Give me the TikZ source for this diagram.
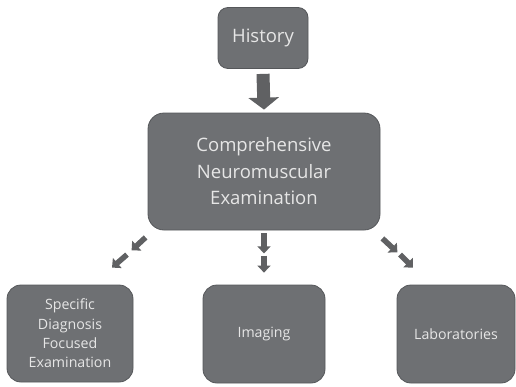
\documentclass[tikz,border=0pt]{standalone}
\usepackage{fontspec}
\setmainfont{Open Sans}
\usetikzlibrary{arrows.meta,calc}

\definecolor{boxfill}{HTML}{6E7073}
\definecolor{boxline}{HTML}{55575A}
\definecolor{boxtext}{HTML}{E6E6E6}
\definecolor{arrowfill}{HTML}{606163}

\tikzset{
  stepbox/.style={draw=boxline, line width=0.8pt, fill=boxfill, text=boxtext,
    align=center, inner sep=0pt},
  bigtext/.style={font=\fontsize{18.5}{26.5}\selectfont},
  smalltext/.style={font=\fontsize{14.2}{19.3}\selectfont},
  bigarrow/.style={draw=arrowfill, line width=13pt,
    -{Triangle[width=30pt,length=12pt]}},
  smallarrow/.style={draw=arrowfill, line width=5.5pt,
    -{Triangle[width=13pt,length=7pt]}}
}

\begin{document}
\begin{tikzpicture}[x=1pt,y=-1pt]
  \useasboundingbox (0,0) rectangle (516,386);

  % boxes
  \node[stepbox, bigtext, rounded corners=10pt, minimum width=90pt,
        minimum height=61pt] (hist) at (263,38) {History};
  \node[stepbox, bigtext, rounded corners=16pt, minimum width=232pt,
        minimum height=117pt] (big) at (264,171.5)
        {Comprehensive\\Neuromuscular\\Examination};
  \node[stepbox, smalltext, rounded corners=14pt, minimum width=126pt,
        minimum height=97pt] (spec) at (70,333.5)
        {Specific\\Diagnosis\\Focused\\Examination};
  \node[stepbox, smalltext, rounded corners=14pt, minimum width=122pt,
        minimum height=98pt] (img) at (264,334) {Imaging};
  \node[stepbox, smalltext, rounded corners=14pt, minimum width=118pt,
        minimum height=98pt] (lab) at (456,334) {Laboratories};

  % history to examination
  \draw[bigarrow] ([yshift=-5pt]hist.south) -- ([yshift=3pt]big.north);

  % examination to imaging
  \draw[smallarrow] ($(big.south)+(0,3)$) -- ($(big.south)+(0,23)$);
  \draw[smallarrow] ($(img.north)+(0,-29)$) -- ($(img.north)+(0,-12)$);

  % examination to focused examination
  \draw[smallarrow] ($(big.south west)+(-2,7)$) -- ($(big.south west)+(-16,20)$);
  \draw[smallarrow] ($(spec.north)+(57,-30)$) -- ($(spec.north)+(42,-17)$);

  % examination to laboratories
  \draw[smallarrow] ($(big.south east)+(2,8)$) -- ($(big.south east)+(17,22)$);
  \draw[smallarrow] ($(lab.north)+(-56,-30)$) -- ($(lab.north)+(-43,-17)$);
\end{tikzpicture}
\end{document}
